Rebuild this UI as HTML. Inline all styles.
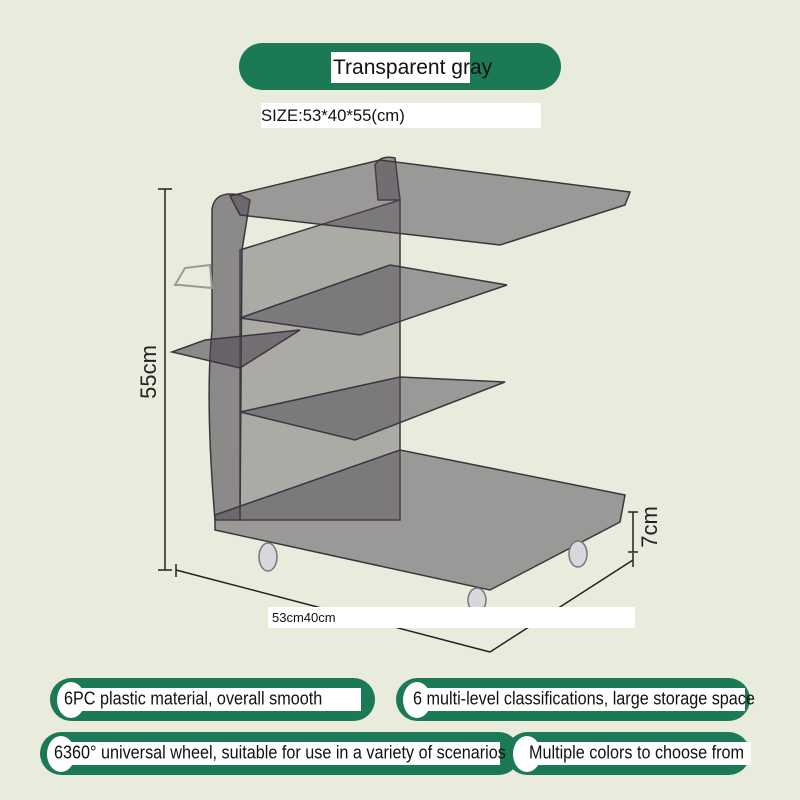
<!DOCTYPE html>
<html><head><meta charset="utf-8"><style>
body{margin:0;width:800px;height:800px;background:#e9ebdc;position:relative;overflow:hidden;font-family:"Liberation Sans",sans-serif}
.a{position:absolute}
.pill{position:absolute;background:#1b7a55;border-radius:24px}
.wb{position:absolute;background:#fff;color:#111;white-space:nowrap;overflow:visible}
.c{position:absolute;background:#fff;border-radius:50%}
.t{display:inline-block;transform:scaleY(1.12);transform-origin:left center}
</style></head><body>
<div class="pill" style="left:239px;top:43px;width:322px;height:47px"></div>
<div class="wb" style="left:331px;top:52px;width:137px;height:31px;font-size:21px;line-height:31px;padding-left:2px">Transparent gray</div>
<div class="wb" style="left:261px;top:103px;width:280px;height:25px;font-size:16.7px;line-height:26px">SIZE:53*40*55(cm)</div>

<svg class="a" style="left:0;top:0" width="800" height="800">
<g stroke="#222" stroke-width="1.5" fill="none">
<line x1="165" y1="189" x2="165" y2="570"/><line x1="158" y1="189" x2="172" y2="189"/><line x1="158" y1="570" x2="172" y2="570"/>
<line x1="176" y1="570" x2="490" y2="652"/><line x1="176" y1="564" x2="176" y2="577"/>
<line x1="490" y1="652" x2="633" y2="560"/><line x1="633" y1="553" x2="633" y2="567"/>
<line x1="633" y1="512" x2="633" y2="552"/><line x1="628" y1="512" x2="638" y2="512"/><line x1="628" y1="552" x2="638" y2="552"/>
</g>
<g fill="#4e4852" stroke="#3a363e" stroke-width="1.5">
<path d="M240 250 L400 200 L400 520 L240 520 Z" fill-opacity=".4"/>
<path d="M212 210 Q214 190 240 195 L250 200 L242 250 L240 520 L215 520 Q205 400 212 330 Z" fill-opacity=".6"/>
<path d="M375 165 Q380 155 395 158 L400 200 L378 200 Z" fill-opacity=".55"/>
<path d="M230 196 L380 160 L630 192 L625 205 L500 245 L240 215 Z" fill-opacity=".5"/>
<path d="M240 318 L390 265 L507 285 L360 335 Z" fill-opacity=".5"/>
<path d="M172 352 L205 340 L300 330 L240 368 Z" fill-opacity=".6"/>
<path d="M240 412 L400 377 L505 382 L355 440 Z" fill-opacity=".5"/>
<path d="M215 515 L400 450 L625 495 L620 522 L490 590 L215 530 Z" fill-opacity=".5"/>
</g>
<path d="M175 285 L185 268 L210 265 L212 288 L180 285Z" fill="none" stroke="#999" stroke-width="2"/>
<g fill="#d8d8dc" stroke="#777" stroke-width="1.5">
<ellipse cx="268" cy="557" rx="9" ry="14"/><ellipse cx="578" cy="554" rx="9" ry="13"/><ellipse cx="477" cy="600" rx="9" ry="12"/>
</g>
<text transform="translate(156,372) rotate(-90)" text-anchor="middle" font-family="Liberation Sans" font-size="22" fill="#222">55cm</text>
<text transform="translate(657,527) rotate(-90)" text-anchor="middle" font-family="Liberation Sans" font-size="22" fill="#222">7cm</text>
</svg>
<div class="wb" style="left:268px;top:607px;width:363px;height:21px;font-size:13px;line-height:21px;padding-left:4px">53cm40cm</div>

<div class="pill" style="left:50px;top:678px;width:325px;height:43px"></div>
<div class="c" style="left:57px;top:682px;width:28px;height:36px"></div>
<div class="wb" style="left:62px;top:688px;width:297px;height:23px;font-size:16.2px;line-height:23px;padding-left:2px"><span class="t">6PC plastic material, overall smooth</span></div>
<div class="pill" style="left:396px;top:678px;width:354px;height:43px"></div>
<div class="c" style="left:403px;top:682px;width:28px;height:36px"></div>
<div class="wb" style="left:410px;top:688px;width:332px;height:23px;font-size:16.2px;line-height:23px;padding-left:3px"><span class="t">6 multi-level classifications, large storage space</span></div>

<div class="pill" style="left:40px;top:732px;width:480px;height:43px"></div>
<div class="c" style="left:47px;top:736px;width:28px;height:36px"></div>
<div class="wb" style="left:52px;top:742px;width:446px;height:23px;font-size:16.2px;line-height:23px;padding-left:2px"><span class="t">6360° universal wheel, suitable for use in a variety of scenarios</span></div>
<div class="pill" style="left:506px;top:732px;width:244px;height:43px"></div>
<div class="c" style="left:513px;top:736px;width:28px;height:36px"></div>
<div class="wb" style="left:520px;top:742px;width:222px;height:23px;font-size:16.2px;line-height:23px;padding-left:9px"><span class="t">Multiple colors to choose from</span></div>
</body></html>
